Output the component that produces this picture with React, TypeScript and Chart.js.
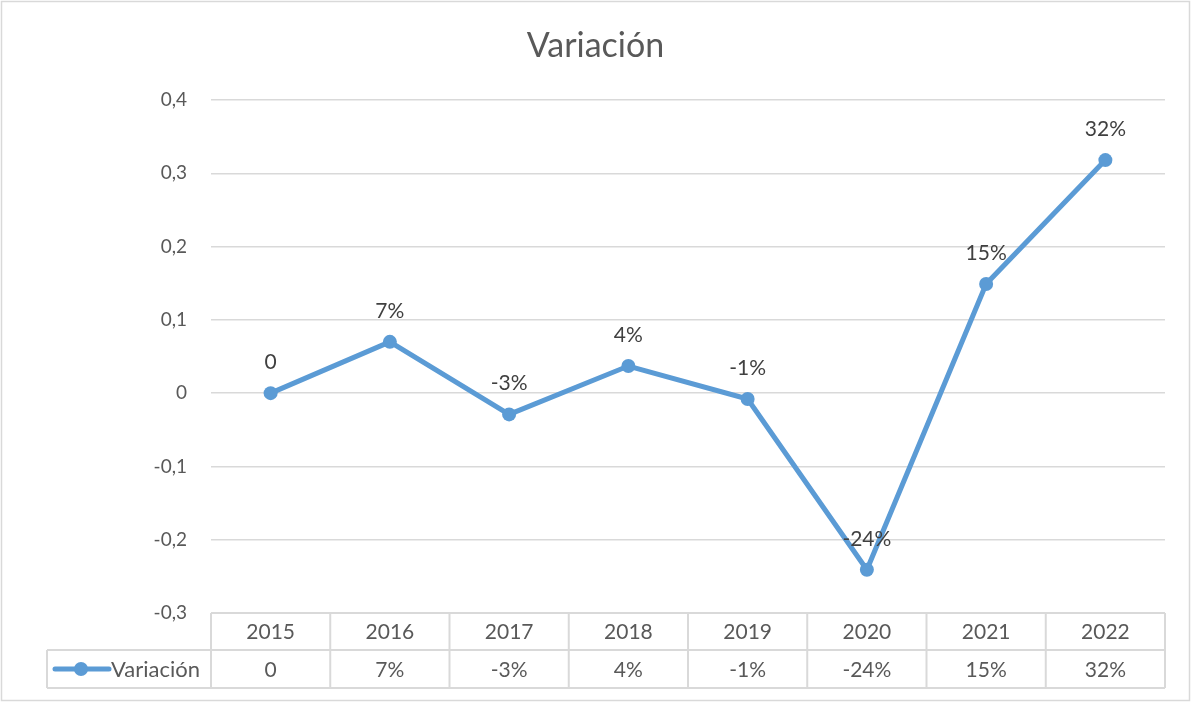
import React, { useEffect, useRef } from "react";
import { Chart, registerables } from "chart.js";

Chart.register(...registerables);

const years = ["2015", "2016", "2017", "2018", "2019", "2020", "2021", "2022"];
const variacion = [0, 0.07, -0.029, 0.037, -0.008, -0.241, 0.149, 0.318];
const pointLabels = ["0", "7%", "-3%", "4%", "-1%", "-24%", "15%", "32%"];
const seriesName = "Variación";
const chartTitle = "Variación";
const yMin = -0.3;
const yMax = 0.4;
const yStep = 0.1;

const FONT = "Lato, 'Open Sans', sans-serif";
const LINE = "#5b9bd5";
const GRID = "#d9d9d9";

const overlay = {
  id: "overlay",
  beforeDraw(chart: any) {
    const ctx = chart.ctx;
    ctx.save();
    ctx.fillStyle = "#ffffff";
    ctx.fillRect(0, 0, chart.width, chart.height);
    ctx.restore();
  },
  afterDraw(chart: any) {
    const ctx = chart.ctx;
    const area = chart.chartArea;
    const xs = chart.scales.x;
    const meta = chart.getDatasetMeta(0);
    ctx.save();
    // border
    ctx.strokeStyle = GRID;
    ctx.lineWidth = 1.5;
    ctx.strokeRect(1.5, 1.5, chart.width - 3, chart.height - 3);
    // title
    ctx.fillStyle = "#595959";
    ctx.font = `34px ${FONT}`;
    ctx.textAlign = "center";
    ctx.textBaseline = "alphabetic";
    ctx.fillText(chartTitle, chart.width / 2, 57);
    // data labels
    ctx.fillStyle = "#404040";
    ctx.font = `21px ${FONT}`;
    meta.data.forEach((pt: any, i: number) => {
      ctx.fillText(pointLabels[i], pt.x, pt.y - 24);
    });
    // data table
    const n = years.length;
    const w = (area.right - area.left) / n;
    const top = area.bottom;
    const mid = top + 37;
    const bot = top + 75;
    const legLeft = 47;
    ctx.strokeStyle = GRID;
    ctx.lineWidth = 2;
    ctx.beginPath();
    ctx.moveTo(area.left, top);
    ctx.lineTo(area.right, top);
    ctx.moveTo(legLeft, mid);
    ctx.lineTo(area.right, mid);
    ctx.moveTo(legLeft, bot);
    ctx.lineTo(area.right, bot);
    ctx.moveTo(legLeft, mid);
    ctx.lineTo(legLeft, bot);
    for (let i = 0; i <= n; i++) {
      const x = area.left + i * w;
      ctx.moveTo(x, top);
      ctx.lineTo(x, bot);
    }
    ctx.stroke();
    ctx.fillStyle = "#595959";
    ctx.font = `21px ${FONT}`;
    ctx.textAlign = "center";
    ctx.textBaseline = "middle";
    years.forEach((y, i) => {
      const cx = xs.getPixelForValue(i);
      ctx.fillText(y, cx, (top + mid) / 2 + 1);
      ctx.fillText(pointLabels[i], cx, (mid + bot) / 2 + 1);
    });
    // legend key
    const ly = (mid + bot) / 2;
    ctx.strokeStyle = LINE;
    ctx.lineWidth = 5;
    ctx.lineCap = "round";
    ctx.beginPath();
    ctx.moveTo(55, ly);
    ctx.lineTo(109, ly);
    ctx.stroke();
    ctx.fillStyle = LINE;
    ctx.beginPath();
    ctx.arc(81, ly, 7, 0, Math.PI * 2);
    ctx.fill();
    ctx.fillStyle = "#595959";
    ctx.textAlign = "left";
    ctx.font = `22px ${FONT}`;
    ctx.fillText(seriesName, 111, ly + 1);
    ctx.restore();
  },
};

export default function App() {
  const ref = useRef<HTMLCanvasElement>(null);
  useEffect(() => {
    document.body.style.margin = "0";
    const chart = new Chart(ref.current as HTMLCanvasElement, {
      type: "line",
      data: {
        labels: years,
        datasets: [
          {
            label: seriesName,
            data: variacion,
            borderColor: LINE,
            backgroundColor: LINE,
            borderWidth: 5,
            pointRadius: 7,
            pointHoverRadius: 7,
            pointBackgroundColor: LINE,
            pointBorderWidth: 0,
            tension: 0,
          },
        ],
      },
      options: {
        animation: false,
        responsive: false,
        devicePixelRatio: 1,
        layout: { padding: { left: 0, right: 26, top: 100, bottom: 89 } },
        plugins: {
          legend: { display: false },
          title: { display: false },
          tooltip: { enabled: false },
        },
        scales: {
          x: { type: "category", display: false, offset: true },
          y: {
            min: yMin,
            max: yMax,
            border: { display: false },
            grid: { color: GRID, lineWidth: 1.5, drawTicks: false },
            afterFit: (s: any) => {
              s.width = 211;
            },
            ticks: {
              stepSize: yStep,
              padding: 24,
              color: "#595959",
              font: { family: FONT, size: 19 },
              callback: (v: any) => {
                const n = Math.round(Number(v) * 10) / 10;
                return n === 0 ? "0" : n.toFixed(1).replace(".", ",");
              },
            },
          },
        },
      },
      plugins: [overlay],
    });
    return () => chart.destroy();
  }, []);
  return (
    <div style={{ width: 1191, height: 702 }}>
      <canvas ref={ref} width={1191} height={702} style={{ display: "block" }} />
    </div>
  );
}
